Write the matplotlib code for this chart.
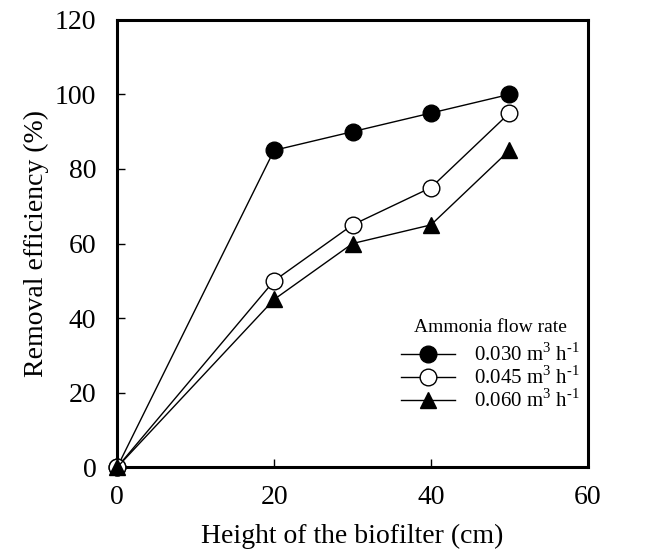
import matplotlib.pyplot as plt

plt.rcParams['font.family'] = 'Liberation Serif'
plt.rcParams['mathtext.fontset'] = 'custom'
plt.rcParams['mathtext.rm'] = 'Liberation Serif'

height = [0, 20, 30, 40, 50]
eff_030 = [0, 85, 90, 95, 100]
eff_045 = [0, 50, 65, 75, 95]
eff_060 = [0, 45, 60, 65, 85]

fig = plt.figure(figsize=(6.62, 5.51), dpi=100)
ax = fig.add_axes([0.177, 0.152, 0.711, 0.812])

ax.plot(height, eff_030, marker='o', ms=12, color='black', mfc='black', lw=1,
        label=r'0.030 m$^3$ h$^{\text{-}1}$', clip_on=False, zorder=3)
ax.plot(height, eff_045, marker='o', ms=12, color='black', mfc='white', lw=1,
        label=r'0.045 m$^3$ h$^{\text{-}1}$', clip_on=False, zorder=3)
ax.plot(height, eff_060, marker='^', ms=12, color='black', mfc='black', lw=1,
        label=r'0.060 m$^3$ h$^{\text{-}1}$', clip_on=False, zorder=3)

ax.set_xlim(0, 60)
ax.set_ylim(0, 120)
ax.set_xticks([0, 20, 40, 60])
ax.set_yticks(range(0, 121, 20))
ax.tick_params(direction='in', length=6, width=1, labelsize=20)
ax.tick_params(axis='x', pad=13)
ax.tick_params(axis='y', pad=15)
for s in ax.spines.values():
    s.set_linewidth(2.2)

ax.set_xlabel('Height of the biofilter (cm)', fontsize=20, labelpad=10)
ax.set_ylabel('Removal efficiency (%)', fontsize=20, labelpad=4)

leg = ax.legend(title='Ammonia flow rate', loc='lower right', frameon=False,
                fontsize=15, title_fontsize=14, handlelength=2.6,
                handletextpad=0.9, labelspacing=0.02, borderaxespad=0,
                bbox_to_anchor=(1.0, 0.105))
leg._legend_box.align = 'center'
leg._legend_box.sep = 5

fig.savefig('out.png', dpi=100)
